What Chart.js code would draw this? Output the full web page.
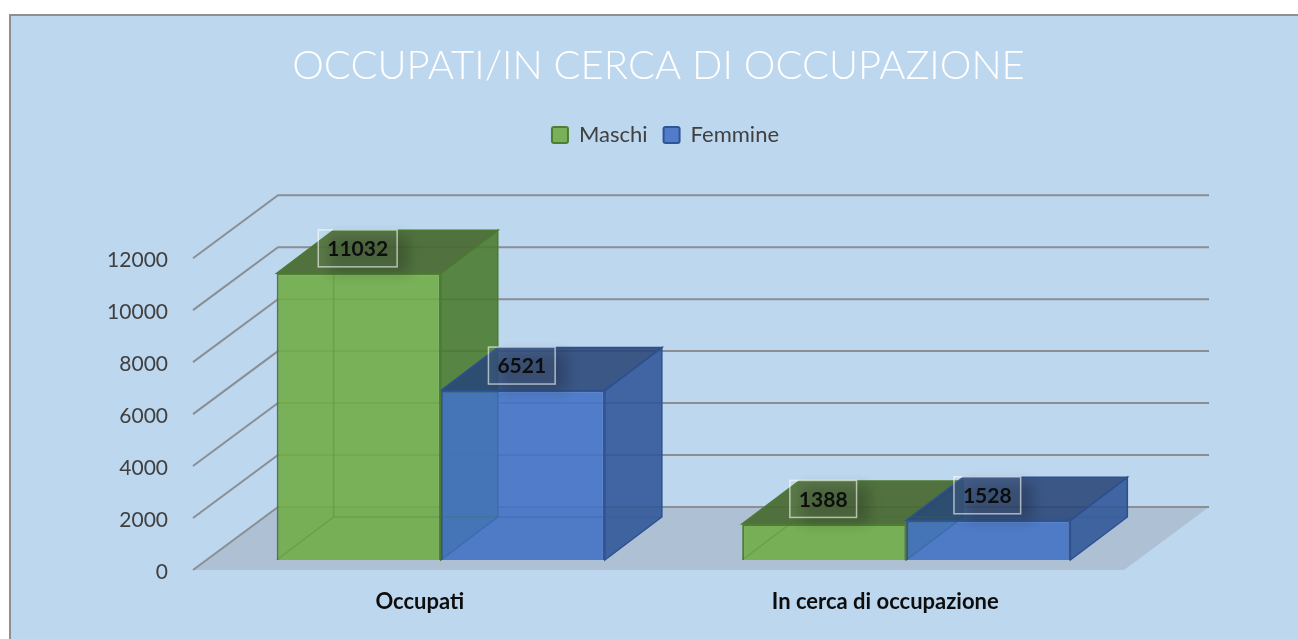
<!DOCTYPE html>
<html><head><meta charset="utf-8">
<style>html,body{margin:0;padding:0;background:#fff;overflow:hidden}canvas{display:block}</style>
<script src="https://cdn.jsdelivr.net/npm/chart.js@4"></script>
</head><body>
<canvas id="c" width="1298" height="639"></canvas>
<script>
const categories = ['Occupati', 'In cerca di occupazione'];
const maschi = [11032, 1388];
const femmine = [6521, 1528];
const seriesNames = ['Maschi', 'Femmine'];
const chartTitle = 'OCCUPATI/IN CERCA DI OCCUPAZIONE';

const WALL = {dx: 85, dy: -63};      // axis depth of the 3D box
const BAR_OFF = {dx: 15, dy: -10};   // bars sit inside the floor
const BAR_D = {dx: 57, dy: -43};     // depth of each bar
const FACES = [
  {side: 'rgba(72,122,44,0.88)', top: 'rgba(72,105,48,0.92)', edge: '#4c7a30', inner: 'rgba(70,115,45,0.26)'},
  {side: 'rgba(47,85,151,0.88)', top: 'rgba(40,70,120,0.88)', edge: '#2d5190', inner: 'rgba(45,85,150,0.26)'}
];

function poly(ctx, pts, fill, stroke, w) {
  ctx.beginPath();
  pts.forEach((p, i) => i ? ctx.lineTo(p[0], p[1]) : ctx.moveTo(p[0], p[1]));
  ctx.closePath();
  if (fill) { ctx.fillStyle = fill; ctx.fill(); }
  if (stroke) { ctx.strokeStyle = stroke; ctx.lineWidth = w || 1.5; ctx.stroke(); }
}
function barBox(b) {
  return {
    l: b.x - b.width / 2 + BAR_OFF.dx, r: b.x + b.width / 2 + BAR_OFF.dx,
    t: b.y + BAR_OFF.dy, bt: b.base + BAR_OFF.dy
  };
}

const scene = {
  id: 'scene',
  afterLayout(chart) {
    chart.legend.left += 7;
    chart.legend.right += 7;
  },
  beforeDraw(chart) {
    const c = chart.ctx;
    c.save();
    c.fillStyle = '#ffffff';
    c.fillRect(0, 0, chart.width, chart.height);
    c.fillStyle = '#bdd7ee';
    c.fillRect(10, 14, chart.width - 10, chart.height - 14);
    c.strokeStyle = '#8f8f8f';
    c.lineWidth = 2;
    c.beginPath();
    c.moveTo(10, chart.height); c.lineTo(10, 15); c.lineTo(chart.width, 15);
    c.stroke();
    c.restore();
  },
  beforeDatasetsDraw(chart) {
    const c = chart.ctx, a = chart.chartArea, y = chart.scales.y;
    c.save();
    const y0 = y.getPixelForValue(0);
    poly(c, [[a.left, y0], [a.left + WALL.dx, y0 + WALL.dy], [a.right + WALL.dx, y0 + WALL.dy], [a.right, y0]], '#aec0d4');
    c.strokeStyle = '#8b8f94';
    c.lineWidth = 2;
    y.ticks.forEach(t => {
      const p = y.getPixelForValue(t.value);
      c.beginPath();
      c.moveTo(a.left, p);
      c.lineTo(a.left + WALL.dx, p + WALL.dy);
      c.lineTo(a.right + WALL.dx, p + WALL.dy);
      c.stroke();
    });
    chart.data.datasets.forEach((ds, i) => {
      chart.getDatasetMeta(i).data.forEach(b => {
        const f = FACES[i], q = barBox(b), d = BAR_D;
        poly(c, [[q.r, q.bt], [q.r + d.dx, q.bt + d.dy], [q.r + d.dx, q.t + d.dy], [q.r, q.t]], f.side, f.edge, 1.5);
        poly(c, [[q.l, q.t], [q.l + d.dx, q.t + d.dy], [q.r + d.dx, q.t + d.dy], [q.r, q.t]], f.top, f.edge, 1.5);
      });
    });
    c.translate(BAR_OFF.dx, BAR_OFF.dy);
  },
  afterDatasetsDraw(chart) {
    const c = chart.ctx;
    c.restore();
    c.save();
    // hidden back edges, seen through the translucent front
    chart.data.datasets.forEach((ds, i) => {
      chart.getDatasetMeta(i).data.forEach(b => {
        const q = barBox(b), d = BAR_D;
        c.strokeStyle = FACES[i].inner;
        c.lineWidth = 1.5;
        c.beginPath();
        c.moveTo(q.l, q.bt); c.lineTo(q.l + d.dx, q.bt + d.dy); c.lineTo(q.r + d.dx, q.bt + d.dy);
        c.moveTo(q.l + d.dx, q.bt + d.dy); c.lineTo(q.l + d.dx, q.t + d.dy);
        c.stroke();
      });
    });
    chart.data.datasets.forEach((ds, i) => {
      chart.getDatasetMeta(i).data.forEach((b, j) => {
        const cx = b.x + BAR_OFF.dx - 1, cy = b.y + BAR_OFF.dy - 25;
        const txt = String(ds.data[j]);
        c.font = 'bold 21px Lato';
        const w = c.measureText(txt).width + 18, h = 37;
        const x = cx - w / 2, yy = cy - h / 2;
        // soft shadow of the label box
        c.save();
        c.shadowColor = 'rgba(0,0,0,0.2)';
        c.shadowBlur = 12;
        c.shadowOffsetX = 3000 + 12;
        c.shadowOffsetY = 6;
        c.fillStyle = '#000';
        c.fillRect(x - 3000, yy, w, h);
        c.restore();
        c.fillStyle = 'rgba(255,255,255,0.05)';
        c.fillRect(x, yy, w, h);
        c.strokeStyle = 'rgba(255,255,255,0.6)';
        c.lineWidth = 1.5;
        c.strokeRect(x, yy, w, h);
        c.fillStyle = '#0d0d0d';
        c.textAlign = 'center';
        c.textBaseline = 'middle';
        c.fillText(txt, cx, cy + 1);
      });
    });
    c.restore();
  }
};

new Chart(document.getElementById('c'), {
  type: 'bar',
  data: {
    labels: categories,
    datasets: [
      {label: seriesNames[0], data: maschi, backgroundColor: 'rgba(112,173,71,0.9)', borderColor: '#4f7d33', borderWidth: 2,
        categoryPercentage: 0.705, barPercentage: 1},
      {label: seriesNames[1], data: femmine, backgroundColor: 'rgba(68,114,196,0.9)', borderColor: '#2f5597', borderWidth: 2,
        categoryPercentage: 0.705, barPercentage: 1}
    ]
  },
  options: {
    responsive: false,
    animation: false,
    events: [],
    layout: {padding: {left: 0, right: 174, top: 0, bottom: 0}},
    plugins: {
      title: {display: true, text: chartTitle, color: '#ffffff', fullSize: false,
        font: {family: 'Lato', size: 40, weight: '300'}, padding: {top: 42, bottom: 18}},
      legend: {display: true, position: 'top', fullSize: false, weight: 1800,
        labels: {color: '#404040', font: {family: 'Lato', size: 22}, boxWidth: 16, boxHeight: 16, padding: 16,
          useBorderRadius: true, borderRadius: 2}
      },
      subtitle: {display: true, text: ' ', fullSize: false, font: {size: 1}, padding: {top: 0, bottom: 101}},
      tooltip: {enabled: false}
    },
    scales: {
      x: {
        grid: {display: false}, border: {display: false},
        afterFit(s) { s.height = 69; },
        ticks: {color: '#0d0d0d', font: {family: 'Lato', size: 22, weight: 'bold'}, padding: 11, labelOffset: -6, maxRotation: 0, autoSkip: false}
      },
      y: {
        min: 0, max: 12000,
        grid: {display: false}, border: {display: false},
        afterFit(s) { s.width = 193; },
        ticks: {stepSize: 2000, color: '#404040', font: {family: 'Lato', size: 21}, padding: 17, labelOffset: 2,
          callback: v => String(v)}
      }
    }
  },
  plugins: [scene]
});
</script>
</body></html>
